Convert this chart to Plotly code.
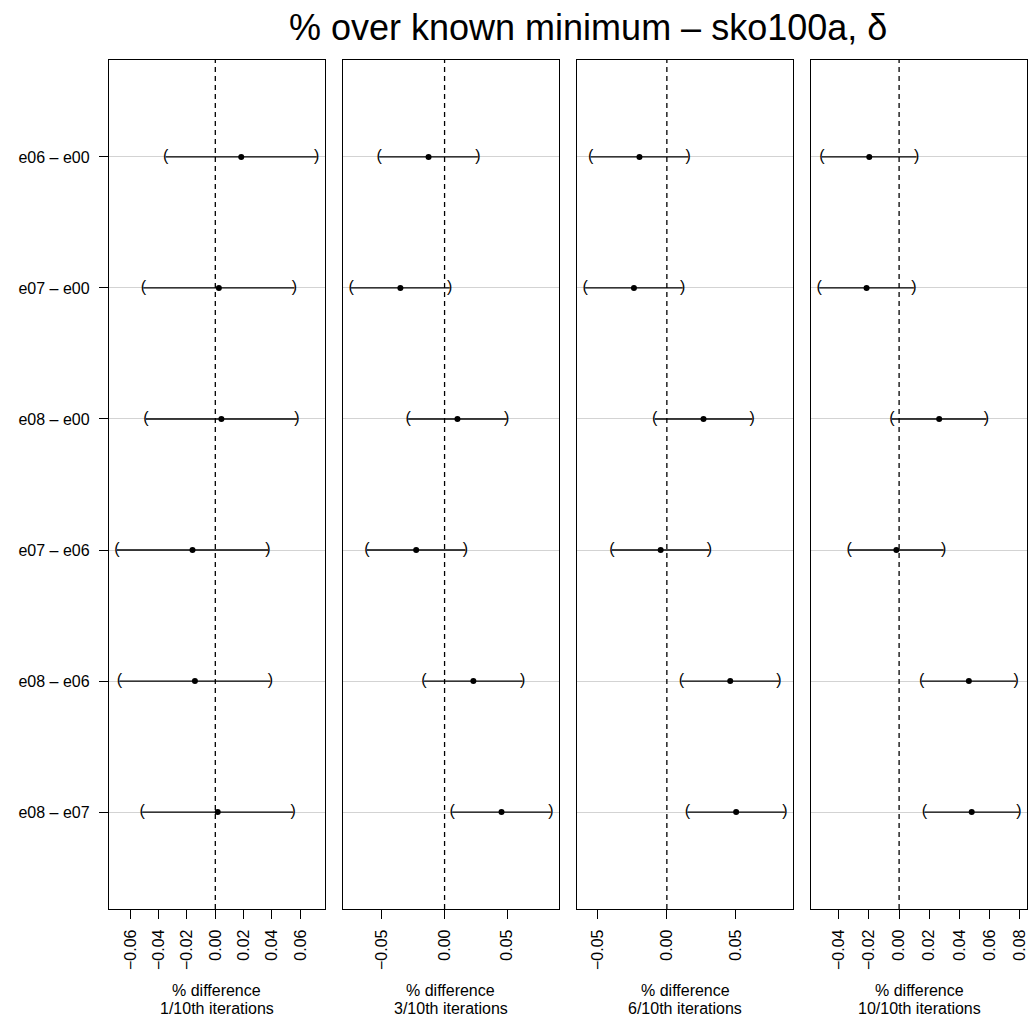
import plotly.graph_objects as go

# Pairwise comparisons, listed top to bottom
comparisons = ["e06 – e00", "e07 – e00", "e08 – e00", "e07 – e06", "e08 – e06", "e08 – e07"]

# Iteration budget for each panel
stages = ["1/10th iterations", "3/10th iterations", "6/10th iterations", "10/10th iterations"]

# Estimated difference and simultaneous interval bounds, one list per panel
est_1 = [0.0183, 0.0025, 0.0043, -0.0161, -0.0144, 0.0017]
lo_1 = [-0.0350, -0.0508, -0.0490, -0.0694, -0.0677, -0.0516]
hi_1 = [0.0716, 0.0558, 0.0576, 0.0372, 0.0389, 0.0550]

est_3 = [-0.0128, -0.0353, 0.0103, -0.0227, 0.0230, 0.0455]
lo_3 = [-0.0522, -0.0747, -0.0291, -0.0621, -0.0164, 0.0061]
hi_3 = [0.0266, 0.0041, 0.0497, 0.0167, 0.0624, 0.0849]

est_6 = [-0.0199, -0.0239, 0.0266, -0.0045, 0.0460, 0.0503]
lo_6 = [-0.0553, -0.0593, -0.0088, -0.0399, 0.0106, 0.0149]
hi_6 = [0.0155, 0.0115, 0.0620, 0.0309, 0.0814, 0.0857]

est_10 = [-0.0198, -0.0216, 0.0266, -0.0018, 0.0463, 0.0482]
lo_10 = [-0.0512, -0.0530, -0.0048, -0.0332, 0.0149, 0.0168]
hi_10 = [0.0116, 0.0098, 0.0580, 0.0296, 0.0777, 0.0796]

# Tick marks on each panel's x axis
ticks_1 = [-0.06, -0.04, -0.02, 0.00, 0.02, 0.04, 0.06]
ticks_3 = [-0.05, 0.00, 0.05]
ticks_6 = [-0.05, 0.00, 0.05]
ticks_10 = [-0.04, -0.02, 0.00, 0.02, 0.04, 0.06, 0.08]

panels = [
    (est_1, lo_1, hi_1, ticks_1),
    (est_3, lo_3, hi_3, ticks_3),
    (est_6, lo_6, hi_6, ticks_6),
    (est_10, lo_10, hi_10, ticks_10),
]

FONT = "Liberation Sans, Arial, Helvetica, sans-serif"
LW = 1.3
n = len(comparisons)
ypos = list(range(n, 0, -1))  # first comparison at the top

panel_w = 0.2350
gap = 0.0200

fig = go.Figure()
layout = {}

for i, (est, lo, hi, ticks) in enumerate(panels):
    k = "" if i == 0 else str(i + 1)
    xa, ya = "x" + k, "y" + k

    # interval segments
    xs, ys = [], []
    for a, b, y in zip(lo, hi, ypos):
        xs += [a, b, None]
        ys += [y, y, None]
    fig.add_trace(go.Scatter(x=xs, y=ys, mode="lines", xaxis=xa, yaxis=ya,
                             line=dict(color="black", width=LW),
                             showlegend=False, hoverinfo="skip"))
    # bracket ends
    fig.add_trace(go.Scatter(x=lo, y=ypos, mode="text", text=["("] * n,
                             textposition="middle center", xaxis=xa, yaxis=ya,
                             textfont=dict(family=FONT, size=16, color="black"),
                             showlegend=False, hoverinfo="skip"))
    fig.add_trace(go.Scatter(x=hi, y=ypos, mode="text", text=[")"] * n,
                             textposition="middle center", xaxis=xa, yaxis=ya,
                             textfont=dict(family=FONT, size=16, color="black"),
                             showlegend=False, hoverinfo="skip"))
    # point estimates
    fig.add_trace(go.Scatter(x=est, y=ypos, mode="markers", xaxis=xa, yaxis=ya,
                             marker=dict(color="black", size=6),
                             showlegend=False, hoverinfo="skip"))

    # reference line at zero
    fig.add_shape(type="line", x0=0, x1=0, y0=0, y1=1, xref=xa, yref=ya + " domain",
                  line=dict(color="black", width=LW, dash="5px,4px"), layer="above")

    # x range padded 4% either side of the intervals
    mn, mx = min(lo), max(hi)
    pad = 0.04 * (mx - mn)
    x0 = i * (panel_w + gap)
    layout["xaxis" + k] = dict(
        domain=[x0, x0 + panel_w], range=[mn - pad, mx + pad],
        tickvals=ticks, ticktext=[("−" if t < 0 else "") + f"{abs(t):.2f}" for t in ticks],
        tickangle=-90, ticks="outside", ticklen=9, tickwidth=LW, tickcolor="black",
        ticklabelstandoff=4,
        showline=True, linecolor="black", linewidth=LW, mirror=True,
        showgrid=False, zeroline=False, anchor=ya, fixedrange=True,
        tickfont=dict(family=FONT, size=16, color="black"),
    )
    layout["yaxis" + k] = dict(
        domain=[0, 1], range=[0.26, n + 0.74], anchor=xa,
        tickvals=ypos, ticktext=comparisons if i == 0 else [""] * n,
        showticklabels=(i == 0), ticks="outside" if i == 0 else "",
        ticklen=9, tickwidth=LW, tickcolor="black", ticklabelstandoff=6,
        showline=True, linecolor="black", linewidth=LW, mirror=True,
        showgrid=True, gridcolor="#d3d3d3", gridwidth=1, zeroline=False,
        fixedrange=True, tickfont=dict(family=FONT, size=16, color="black"),
    )

    # axis caption under each panel
    fig.add_annotation(text="% difference", xref=xa + " domain", x=0.5,
                       yref="paper", y=-0.0955, yanchor="middle", showarrow=False,
                       font=dict(family=FONT, size=16, color="black"))
    fig.add_annotation(text=stages[i], xref=xa + " domain", x=0.5,
                       yref="paper", y=-0.1167, yanchor="middle", showarrow=False,
                       font=dict(family=FONT, size=16, color="black"))

fig.add_annotation(text="% over known minimum – sko100a, δ", xref="paper", x=0.5218,
                   yref="paper", y=1.0, yshift=33, yanchor="middle", showarrow=False,
                   font=dict(family=FONT, size=36, color="black"))

fig.update_layout(
    width=1029, height=1021,
    margin=dict(l=109, r=2, t=60, b=112),
    paper_bgcolor="white", plot_bgcolor="white",
    font=dict(family=FONT, color="black"),
    **layout,
)

fig.write_html("out.html")
